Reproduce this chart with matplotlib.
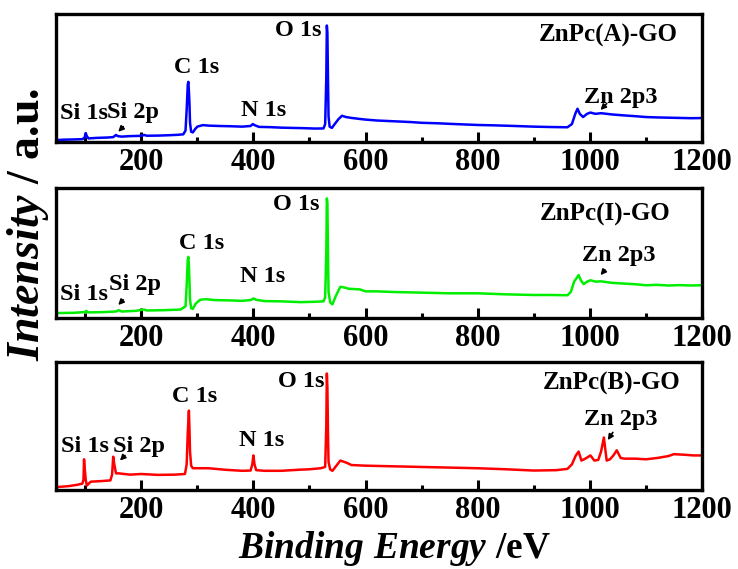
import matplotlib
matplotlib.use("Agg")
import matplotlib.pyplot as plt
from matplotlib.ticker import MultipleLocator

plt.rcParams['font.family'] = ['Liberation Serif', 'DejaVu Serif']
plt.rcParams['font.weight'] = 'bold'
plt.rcParams['mathtext.fontset'] = 'custom'
plt.rcParams['mathtext.it'] = 'Liberation Serif:italic:bold'
plt.rcParams['mathtext.rm'] = 'Liberation Serif:bold'
plt.rcParams['mathtext.bf'] = 'Liberation Serif:bold'

# ---------------- data (binding energy in eV, intensity in % of panel height) -------------
be_a = [50, 60, 80, 95, 99, 101, 103, 106, 120, 140, 150, 155, 158, 165, 180, 200, 205, 210,
        230, 250, 265, 275, 279, 281, 283, 284, 285, 286, 287, 289, 292, 296, 300, 310, 320,
        340, 360, 380, 395, 399, 403, 410, 430, 450, 470, 490, 510, 525, 528, 530, 531, 532,
        533, 534, 536, 540, 545, 552, 558, 565, 575, 590, 600, 620, 650, 680, 700, 730, 760,
        800, 830, 860, 900, 930, 960, 968, 974, 978, 982, 988, 995, 1001, 1010, 1020, 1040,
        1060, 1080, 1100, 1120, 1140, 1160, 1180, 1200]
int_a = [1.5, 1.8, 2.0, 2.2, 3.5, 7.0, 4.5, 2.8, 3.2, 3.5, 3.8, 5.5, 4.6, 4.2, 4.6, 4.8, 5.5, 4.9,
         5.0, 5.3, 5.6, 6.0, 9.0, 25.0, 45.0, 47.0, 40.0, 30.0, 15.0, 8.0, 7.5, 10.0, 12.0, 13.2, 12.8,
         12.5, 12.3, 12.0, 12.5, 14.0, 13.0, 11.8, 11.6, 11.2, 11.0, 10.8, 10.5, 10.6, 14.0, 50.0, 91.0, 85.0,
         50.0, 20.0, 12.0, 11.0, 14.0, 18.0, 20.5, 19.5, 18.8, 18.0, 17.5, 16.8, 16.2, 15.6, 15.0, 14.6, 14.0,
         13.3, 13.0, 12.6, 12.0, 11.7, 11.5, 14.0, 22.0, 26.0, 22.0, 19.5, 22.0, 23.0, 22.0, 22.5, 21.5,
         20.8, 20.2, 19.5, 19.2, 19.0, 18.8, 18.6, 18.7]

be_i = [50, 80, 100, 102, 105, 130, 155, 160, 165, 190, 205, 210, 240, 270, 279, 281, 283, 284,
        285, 286, 287, 289, 292, 297, 305, 315, 330, 360, 380, 395, 400, 405, 420, 450, 484, 510,
        525, 528, 530, 531, 532, 533, 534, 537, 541, 546, 555, 562, 570, 590, 600, 620, 650, 700,
        750, 800, 850, 900, 930, 960, 966, 972, 980, 984, 989, 995, 1001, 1010, 1020, 1040, 1060,
        1080, 1100, 1120, 1140, 1160, 1180, 1200]
int_i = [3.8, 4.0, 4.6, 5.5, 4.3, 4.5, 5.0, 6.0, 5.0, 5.5, 6.5, 5.8, 6.0, 6.5, 9.0, 25.0, 45.0, 47.0,
         40.0, 28.0, 14.0, 7.5, 7.0, 11.0, 14.0, 14.5, 13.8, 13.5, 13.2, 13.8, 15.0, 14.0, 13.0, 12.8, 12.2, 12.5,
         12.8, 16.0, 50.0, 92.0, 88.0, 50.0, 20.0, 12.0, 10.5, 16.0, 24.0, 23.5, 22.5, 22.0, 20.5, 20.5, 20.0, 19.5,
         19.0, 19.0, 18.2, 17.7, 17.7, 17.5, 20.0, 28.0, 33.0, 29.0, 26.0, 28.0, 29.0, 28.0, 28.2, 27.0, 26.5,
         26.0, 25.2, 25.5, 25.0, 25.3, 25.0, 25.2]

be_b = [50, 70, 85, 95, 97, 98, 99, 101, 103, 110, 130, 145, 148, 150, 152, 155, 160, 180, 200,
        230, 260, 278, 281, 283, 285, 286, 287, 289, 292, 300, 320, 350, 380, 395, 398, 400, 402, 405,
        420, 450, 480, 500, 520, 528, 530, 531, 532, 533, 534, 537, 541, 548, 555, 565, 575, 600, 650,
        700, 750, 800, 850, 900, 940, 960, 968, 975, 980, 985, 992, 1001, 1008, 1015, 1020, 1025, 1030,
        1036, 1042, 1048, 1055, 1062, 1080, 1100, 1120, 1140, 1150, 1170, 1185, 1200]
int_b = [2.3, 3.0, 4.0, 5.0, 8.0, 24.0, 18.0, 8.0, 3.5, 6.5, 7.0, 7.5, 12.0, 26.0, 20.0, 13.0, 13.0, 12.0, 12.5,
         11.8, 12.0, 12.5, 20.0, 45.0, 62.0, 48.0, 30.0, 19.0, 17.0, 17.0, 17.0, 15.8, 15.0, 15.2, 20.0, 27.0, 20.0, 15.5,
         15.0, 15.0, 15.8, 16.2, 17.0, 18.0, 50.0, 91.0, 80.0, 45.0, 22.0, 16.0, 15.0, 19.0, 23.0, 21.5, 19.5, 19.0, 18.5,
         18.0, 17.5, 17.0, 16.2, 15.2, 15.5, 16.5, 20.0, 27.0, 30.0, 23.0, 24.5, 27.0, 23.0, 23.5, 30.0, 41.0, 23.0,
         24.0, 27.0, 31.0, 25.0, 24.5, 24.5, 24.0, 25.0, 26.5, 28.0, 27.5, 27.0, 27.0]

sample_names = ['ZnPc(A)-GO', 'ZnPc(I)-GO', 'ZnPc(B)-GO']
colors = ['#0000ff', '#00ee00', '#ff0000']
peak_names = ['Si 1s', 'Si 2p', 'C 1s', 'N 1s', 'O 1s', 'Zn 2p3']
# label anchor positions (eV, %) for each panel, in peak_names order
label_x = [[98, 186, 298, 418, 480, 1055],
           [98, 189, 307, 416, 476, 1051],
           [100, 196, 296, 414, 485, 1055]]
label_y = [[22, 23, 58, 25, 87, 35],
           [18, 26, 57, 32, 87, 48],
           [34, 34, 73, 39, 85, 55]]
name_x = [1032, 1027, 1039]
name_y = [83, 80, 83]
# arrows: (tip_x, tip_y, tail_x, tail_y) for Si 2p and Zn 2p3
arrow_si = [(159, 8, 168, 12), (159, 10, 168, 14), (162, 23, 171, 27)]
arrow_zn = [(1019, 25, 1030, 30), (1019, 33, 1027, 37), (1032, 39, 1041, 45)]

tick_major = [200, 400, 600, 800, 1000, 1200]

fig = plt.figure(figsize=(7.38, 5.69), dpi=100)
W, H = 738, 569
panels_px = [(14, 142), (188, 318), (362, 490)]
series = [(be_a, int_a), (be_i, int_i), (be_b, int_b)]

for k, (top, bot) in enumerate(panels_px):
    ax = fig.add_axes([56 / W, 1 - bot / H, (702 - 56) / W, (bot - top) / H])
    xs, ys = series[k]
    ax.plot(xs, ys, color=colors[k], lw=1.8)
    ax.set_xlim(48, 1200)
    ax.set_ylim(0, 100)
    ax.set_yticks([])
    ax.set_xticks(tick_major)
    ax.set_xticklabels([str(t) for t in tick_major])
    ax.xaxis.set_minor_locator(MultipleLocator(100))
    ax.tick_params(axis='x', which='major', direction='in', length=7, width=2.2,
                   labelsize=22, pad=4)
    ax.tick_params(axis='x', which='minor', direction='in', length=3.5, width=2.2)
    for lbl in ax.get_xticklabels():
        lbl.set_fontweight('bold')
    for sp in ax.spines.values():
        sp.set_linewidth(2.4)
    for j, name in enumerate(peak_names):
        ax.text(label_x[k][j], label_y[k][j], name, ha='center', va='center',
                fontsize=17.5, fontweight='bold')
    ax.text(name_x[k], name_y[k], sample_names[k], ha='center', va='center',
            fontsize=18, fontweight='bold')
    for a in (arrow_si[k], arrow_zn[k]):
        ax.annotate('', xy=(a[0], a[1]), xytext=(a[2], a[3]),
                    arrowprops=dict(arrowstyle='-|>', color='black', lw=1.2,
                                    mutation_scale=8, shrinkA=0, shrinkB=0))

fig.text(28 / W, 1 - 224 / H, r'$\mathit{Intensity}$ / a.u.', rotation=90,
         ha='center', va='center', fontsize=33, fontweight='bold')
fig.text(394 / W, 1 - 549 / H, r'$\mathit{Binding\ Energy}$ /eV',
         ha='center', va='center', fontsize=27, fontweight='bold')

fig.savefig('out.png', dpi=100)
